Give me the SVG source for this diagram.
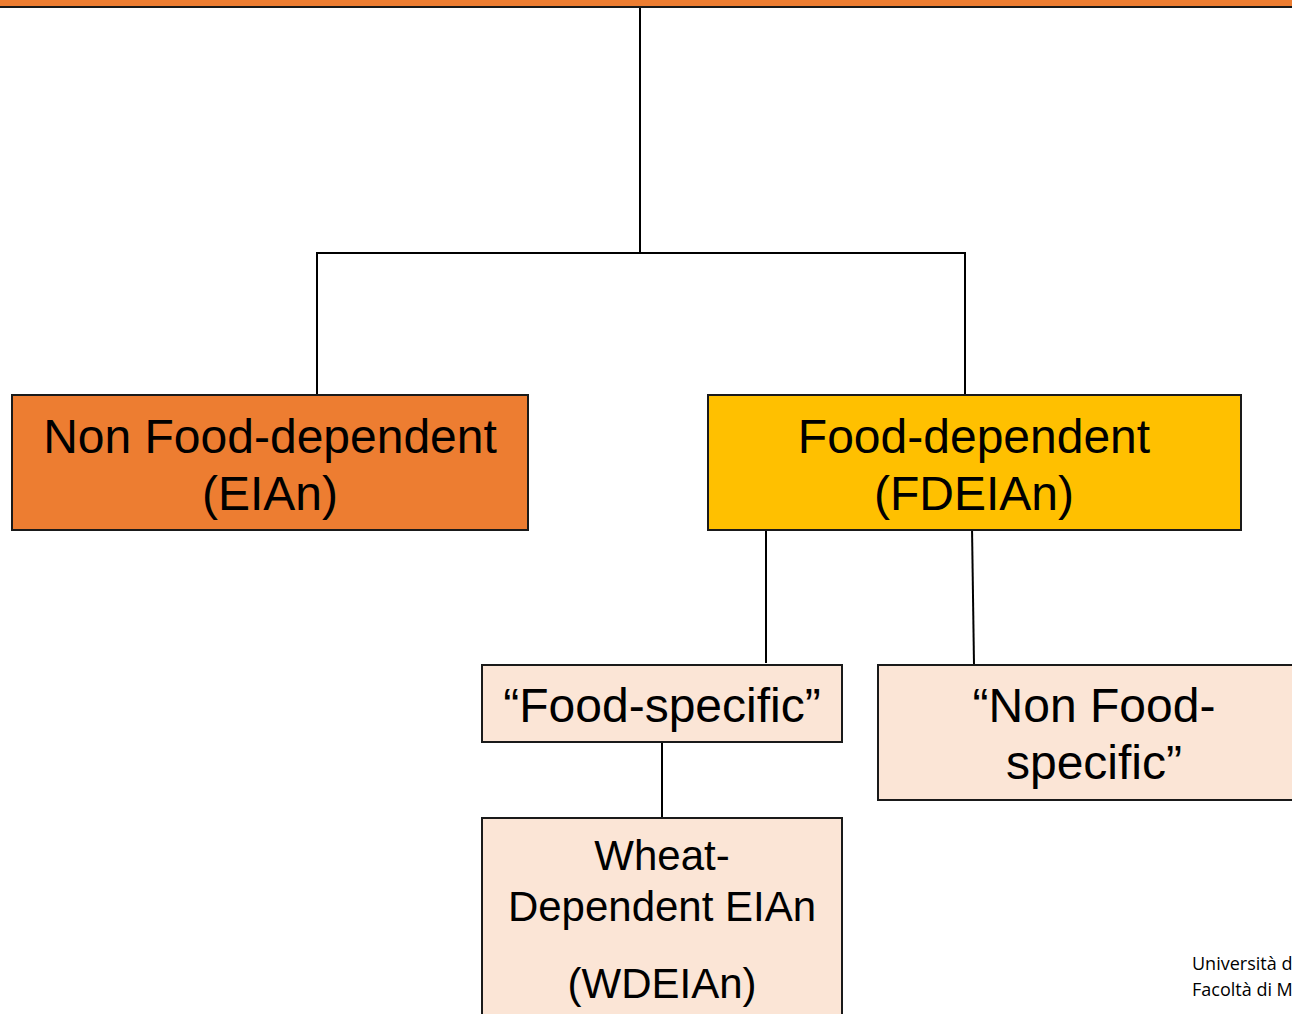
<svg xmlns="http://www.w3.org/2000/svg" width="1292" height="1014" viewBox="0 0 1292 1014">
<style>
.box{stroke:#1a1a1a;stroke-width:2}
.t{font-family:"Liberation Sans",Arial,sans-serif;fill:#000;text-anchor:middle}
.c{stroke:#000;stroke-width:2;fill:none}
.foot{font-family:"Open Sans","Noto Sans",sans-serif;font-size:18px;fill:#000}
</style>
<rect width="1292" height="1014" fill="#fff"/>
<g id="top">
<rect x="-5" y="-10" width="1302" height="17" fill="#ED7D31" stroke="#1a1a1a" stroke-width="2"/>
</g>
<g id="connectors">
<line class="c" x1="640" y1="8" x2="640" y2="253"/>
<polyline class="c" points="317,395 317,253 965,253 965,395"/>
<line class="c" x1="766" y1="527" x2="766" y2="663"/>
<line class="c" x1="972" y1="527" x2="974" y2="665"/>
<line class="c" x1="662" y1="742" x2="662" y2="819" stroke-width="3"/>
</g>
<g id="nonfood">
<rect class="box" x="12" y="395" width="516" height="135" fill="#ED7D31"/>
<text class="t" x="270" y="453" font-size="48">Non Food-dependent</text>
<text class="t" x="270" y="510" font-size="48">(EIAn)</text>
</g>
<g id="food">
<rect class="box" x="708" y="395" width="533" height="135" fill="#FFC000"/>
<text class="t" x="974" y="453" font-size="48">Food-dependent</text>
<text class="t" x="974" y="510" font-size="48">(FDEIAn)</text>
</g>
<g id="foodspecific">
<rect class="box" x="482" y="665" width="360" height="77" fill="#FBE5D6"/>
<text class="t" x="662" y="722" font-size="48">“Food-specific”</text>
</g>
<g id="nonfoodspecific">
<rect class="box" x="878" y="665" width="430" height="135" fill="#FBE5D6"/>
<text class="t" x="1094" y="722" font-size="48">“Non Food-</text>
<text class="t" x="1094" y="779" font-size="48">specific”</text>
</g>
<g id="wheat">
<rect class="box" x="482" y="818" width="360" height="210" fill="#FBE5D6"/>
<text class="t" x="662" y="870" font-size="42">Wheat-</text>
<text class="t" x="662" y="921" font-size="42">Dependent EIAn</text>
<text class="t" x="662" y="998" font-size="42">(WDEIAn)</text>
</g>
<g id="footer">
<text class="foot" x="1192" y="970">Università d</text>
<text class="foot" x="1192" y="996">Facoltà di M</text>
</g>
</svg>
